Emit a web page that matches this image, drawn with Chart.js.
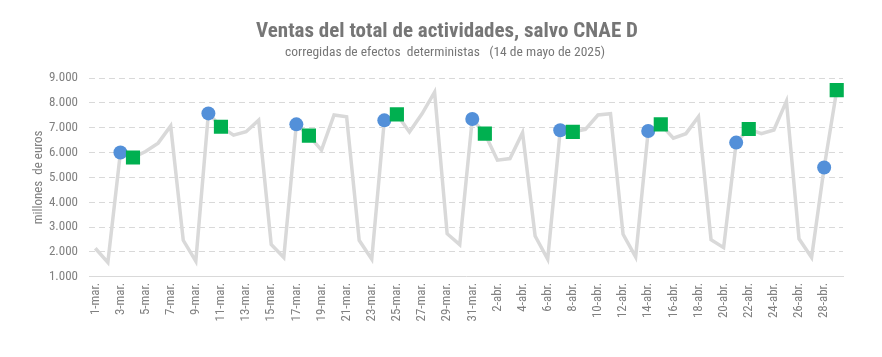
<!DOCTYPE html>
<html><head><meta charset="utf-8">
<script src="https://cdn.jsdelivr.net/npm/chart.js@4"></script>
<style>html,body{margin:0;padding:0;background:#fff}#wrap{width:882px;height:357px}</style>
</head><body><div id="wrap"><canvas id="c" width="882" height="357"></canvas></div>
<script>
const days = [];
for (let d = 1; d <= 31; d++) days.push(d + '-mar.');
for (let d = 1; d <= 29; d++) days.push(d + '-abr.');
const salesValues = [2150,1580,6000,5800,6040,6380,7070,2470,1630,7575,7040,6700,6840,7300,2300,1775,7135,6680,6095,7510,7440,2470,1710,7295,7535,6830,7560,8430,2735,2295,7350,6760,5695,5760,6800,2640,1710,6895,6830,6935,7510,7560,2710,1800,6870,7135,6575,6760,7440,2495,2175,6400,6950,6760,6910,8070,2530,1775,5400,8510];
const mondayIdx = [2,9,16,23,30,37,44,51,58];
const mondayValues = [6000,7575,7135,7295,7350,6895,6870,6400,5400];
const tuesdayIdx = [3,10,17,24,31,38,45,52,59];
const tuesdayValues = [5800,7040,6680,7535,6760,6830,7135,6950,8510];
const yTicks = [1000,2000,3000,4000,5000,6000,7000,8000,9000];
const titleText = 'Ventas del total de actividades, salvo CNAE D';
const subtitleText = 'corregidas de efectos  deterministas   (14 de mayo de 2025)';

const mondaySeries = days.map(() => null);
mondayIdx.forEach((k, j) => mondaySeries[k] = mondayValues[j]);
const tuesdaySeries = days.map(() => null);
tuesdayIdx.forEach((k, j) => tuesdaySeries[k] = tuesdayValues[j]);

const narrow = "'Roboto Condensed', Roboto, sans-serif";
const fmt = v => v.toLocaleString('de-DE');

const header = {
  id: 'header',
  afterDraw(chart) {
    const ctx = chart.ctx;
    ctx.save();
    ctx.fillStyle = '#767676';
    ctx.textAlign = 'center';
    ctx.textBaseline = 'middle';
    ctx.font = "bold 21px " + narrow;
    ctx.fillText(titleText, 447, 32);
    ctx.font = "13.5px " + narrow;
    ctx.fillText(subtitleText, 445, 53);
    ctx.restore();
  }
};

new Chart(document.getElementById('c'), {
  type: 'line',
  data: {
    labels: days,
    datasets: [
      {data: mondaySeries, showLine: false, pointStyle: 'circle', pointRadius: 7, pointBackgroundColor: '#5390D9', pointBorderWidth: 0, order: 1},
      {data: tuesdaySeries, showLine: false, pointStyle: 'rect', pointRadius: 10, pointBackgroundColor: '#00B050', pointBorderWidth: 0, order: 0},
      {data: salesValues, borderColor: '#D9D9D9', borderWidth: 3.5, pointRadius: 0, tension: 0, order: 2}
    ]
  },
  plugins: [header],
  options: {
    responsive: false, animation: false,
    layout: {padding: {left: 31, right: 39, top: 78, bottom: 29.5}},
    plugins: {legend: {display: false}, tooltip: {enabled: false}},
    scales: {
      x: {
        offset: true,
        grid: {display: false, drawTicks: false},
        border: {color: '#D9D9D9', width: 1},
        ticks: {autoSkip: false, minRotation: 90, maxRotation: 90, color: '#808080', padding: 6,
          font: {family: narrow, size: 13},
          callback: (v, i) => i % 2 === 0 ? days[i] : ''}
      },
      y: {
        min: 1000, max: 9000,
        afterBuildTicks: s => { s.ticks = yTicks.map(v => ({value: v})); },
        afterFit: s => { s.width = 58; },
        grid: {color: '#D9D9D9', drawTicks: false, lineWidth: 1},
        border: {display: false, dash: [6, 4]},
        ticks: {color: '#808080', padding: 11, font: {family: narrow, size: 13}, callback: v => fmt(v)},
        title: {display: true, text: 'millones  de euros', color: '#808080', font: {family: narrow, size: 13}, padding: {top: 0, bottom: 2}}
      }
    }
  }
});
</script></body></html>
